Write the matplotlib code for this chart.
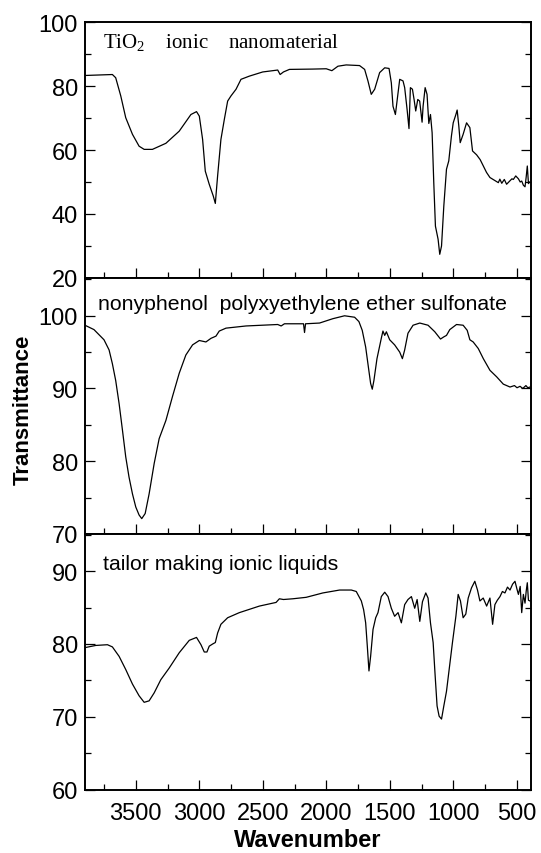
import numpy as np
import matplotlib.pyplot as plt
from matplotlib.ticker import MultipleLocator

plt.rcParams['font.family'] = ['Liberation Sans', 'DejaVu Sans']
plt.rcParams['mathtext.fontset'] = 'custom'
plt.rcParams['mathtext.rm'] = 'Liberation Serif'

# TiO2 ionic nanomaterial
wn1 = [3900, 3684, 3658, 3618, 3579, 3526, 3474, 3434, 3369, 3263, 3158, 3066, 3022, 3000,
       2974, 2953, 2922, 2890, 2874, 2856, 2830, 2803, 2777, 2751, 2711, 2672, 2606, 2501,
       2383, 2364, 2338, 2291, 2107, 2001, 1957, 1909, 1844, 1739, 1699, 1673, 1647, 1620,
       1581, 1541, 1507, 1489, 1476, 1457, 1436, 1423, 1397, 1384, 1365, 1350, 1339, 1323,
       1310, 1297, 1281, 1266, 1247, 1239, 1223, 1208, 1194, 1181, 1168, 1155, 1142, 1121,
       1108, 1094, 1076, 1055, 1037, 1016, 1002, 981, 971, 958, 947, 924, 897, 871, 850,
       818, 790, 765, 740, 713, 680, 647, 635, 620, 600, 582, 560, 540, 529, 510, 489, 475,
       463, 450, 437, 428, 419, 410, 403]
tr1 = [83.3, 83.6, 82.6, 76.9, 70.1, 64.9, 61.2, 60.2, 60.2, 62.1, 65.9, 71.1, 72.0, 70.6,
       63.3, 53.4, 49.3, 45.6, 43.3, 51.9, 63.3, 69.6, 75.3, 76.9, 79.0, 82.1, 83.1, 84.4,
       85.0, 83.6, 84.4, 85.2, 85.3, 85.4, 84.8, 86.2, 86.6, 86.4, 85.2, 81.6, 77.4, 79.0,
       84.2, 85.7, 85.5, 81.0, 73.7, 71.1, 77.9, 82.1, 81.6, 79.5, 72.7, 66.7, 79.5, 79.0,
       75.8, 72.2, 75.8, 75.3, 68.7, 73.7, 79.5, 77.4, 68.3, 71.1, 65.4, 49.8, 36.2, 32.1,
       27.4, 30.0, 42.5, 54.0, 56.6, 64.4, 68.5, 71.1, 72.5, 67.5, 62.3, 64.9, 68.5, 67.0,
       59.7, 58.5, 57.0, 55.0, 53.0, 51.4, 50.6, 49.8, 50.9, 49.6, 50.8, 49.3, 50.2, 51.0,
       50.8, 51.9, 51.0, 50.0, 50.3, 49.0, 48.5, 51.5, 55.0, 49.5, 50.0]

# nonyphenol polyxyethylene ether sulfonate
wn2 = [3900, 3829, 3750, 3710, 3684, 3658, 3631, 3605, 3579, 3553, 3526, 3500, 3474, 3453,
       3426, 3395, 3355, 3316, 3263, 3211, 3158, 3106, 3053, 3000, 2948, 2908, 2869, 2843,
       2790, 2632, 2383, 2356, 2330, 2180, 2172, 2164, 2054, 1949, 1857, 1778, 1744, 1718,
       1691, 1670, 1652, 1639, 1626, 1602, 1568, 1555, 1541, 1528, 1502, 1463, 1423, 1402,
       1384, 1358, 1318, 1265, 1200, 1147, 1102, 1076, 1055, 1029, 976, 924, 892, 871, 845,
       805, 765, 713, 660, 608, 555, 520, 500, 476, 455, 430, 415, 398]
tr2 = [98.7, 98.1, 96.7, 95.3, 93.4, 91.1, 87.9, 84.3, 80.6, 77.8, 75.5, 73.7, 72.6, 72.1,
       72.8, 75.5, 79.7, 83.1, 85.6, 88.9, 92.1, 94.6, 96.0, 96.6, 96.4, 96.9, 97.2, 97.9,
       98.3, 98.6, 98.8, 98.6, 98.9, 98.9, 97.7, 98.9, 99.0, 99.6, 100.0, 99.8, 99.2, 98.0,
       95.7, 93.0, 90.7, 89.9, 91.1, 94.1, 96.9, 97.9, 97.3, 97.8, 96.7, 96.0, 95.0, 94.1,
       95.3, 97.6, 98.7, 99.0, 98.7, 97.8, 96.8, 97.1, 97.3, 98.1, 98.8, 98.7, 98.0, 96.7,
       96.4, 95.5, 94.1, 92.5, 91.6, 90.6, 90.2, 90.4, 90.1, 90.3, 90.0, 90.4, 90.1, 90.2]

# tailor making ionic liquids
wn3 = [3900, 3815, 3723, 3684, 3631, 3579, 3526, 3474, 3434, 3395, 3355, 3303, 3237, 3158,
       3079, 3022, 2987, 2961, 2940, 2922, 2895, 2874, 2856, 2830, 2777, 2685, 2527, 2396,
       2370, 2338, 2264, 2159, 2028, 1896, 1804, 1765, 1725, 1707, 1691, 1678, 1665, 1652,
       1633, 1612, 1594, 1568, 1541, 1515, 1489, 1463, 1436, 1410, 1384, 1358, 1331, 1305,
       1286, 1265, 1244, 1218, 1200, 1181, 1160, 1144, 1129, 1113, 1094, 1076, 1055, 1034,
       1008, 981, 963, 945, 924, 903, 884, 858, 832, 811, 792, 766, 739, 713, 692, 674, 655,
       634, 615, 595, 575, 555, 535, 516, 500, 489, 475, 463, 450, 437, 428, 419, 410, 398]
tr3 = [79.5, 79.8, 79.9, 79.6, 78.3, 76.5, 74.5, 72.9, 72.0, 72.2, 73.3, 75.1, 76.7, 78.8,
       80.5, 80.9, 79.9, 78.9, 78.9, 79.7, 80.0, 80.2, 81.5, 82.7, 83.6, 84.3, 85.2, 85.7,
       86.2, 86.1, 86.2, 86.4, 87.0, 87.4, 87.4, 87.2, 85.9, 84.7, 82.9, 79.7, 76.3, 78.3,
       82.0, 83.6, 84.3, 86.5, 87.1, 86.5, 84.9, 83.8, 84.3, 82.9, 85.4, 86.1, 86.5, 84.9,
       86.1, 83.1, 85.8, 87.0, 86.3, 82.9, 80.2, 75.6, 71.5, 70.1, 69.7, 71.5, 73.5, 76.5,
       80.2, 83.8, 86.8, 85.9, 83.6, 84.1, 86.3, 87.7, 88.6, 87.4, 85.9, 86.3, 85.2, 86.3,
       82.7, 85.4, 86.0, 86.5, 87.2, 87.0, 87.8, 87.4, 88.2, 88.6, 87.5, 86.8, 87.9, 84.3,
       86.8, 85.6, 87.2, 88.4, 86.0, 85.9]

labels = ['TiO$_2$    ionic    nanomaterial',
          'nonyphenol  polyxyethylene ether sulfonate',
          'tailor making ionic liquids']
ylims = [(20, 100), (70, 105.2), (60, 95.1)]
ymajor = [20, 10, 10]

fig, axes = plt.subplots(3, 1, figsize=(5.41, 8.54), dpi=100, sharex=True)
fig.subplots_adjust(left=0.157, right=0.9815, top=0.973, bottom=0.074, hspace=0)

for ax, x, y, lab, yl, ym in zip(axes, [wn1, wn2, wn3], [tr1, tr2, tr3], labels, ylims, ymajor):
    ax.plot(x, y, color='black', lw=0.9)
    ax.set_xlim(3900, 390)
    ax.set_ylim(*yl)
    ax.xaxis.set_major_locator(MultipleLocator(500))
    ax.xaxis.set_minor_locator(MultipleLocator(250))
    ax.yaxis.set_major_locator(MultipleLocator(ym))
    ax.yaxis.set_minor_locator(MultipleLocator(ym / 2))
    ax.tick_params(which='both', direction='in', right=True, top=False, width=0.9,
                   labelsize=17)
    ax.tick_params(axis='y', pad=5)
    ax.tick_params(axis='x', pad=9)
    ax.tick_params(which='major', length=7.5)
    ax.tick_params(which='minor', length=4)
    for s in ax.spines.values():
        s.set_linewidth(1.4)

axes[0].text(0.04, 0.92, labels[0], transform=axes[0].transAxes, fontsize=15,
             family='Liberation Serif', va='center', ha='left')
axes[1].text(0.03, 0.9, labels[1], transform=axes[1].transAxes, fontsize=15.3,
             va='center', ha='left')
axes[2].text(0.04, 0.885, labels[2], transform=axes[2].transAxes, fontsize=15.3,
             va='center', ha='left')

axes[2].set_xlabel('Wavenumber', fontsize=17, fontweight='bold', labelpad=3)
fig.text(0.043, 0.52, 'Transmittance', rotation=90, fontsize=16, fontweight='bold',
         va='center', ha='center')

fig.savefig('out.png', dpi=100)
